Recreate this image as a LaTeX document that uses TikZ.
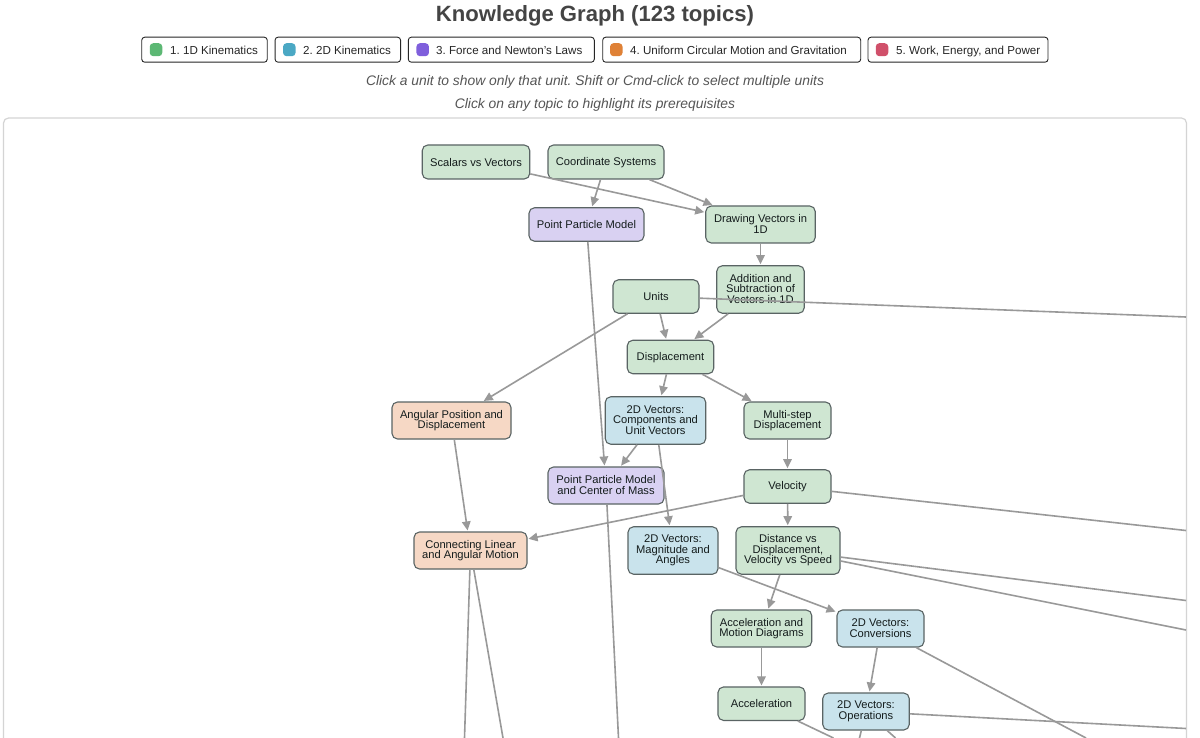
\documentclass[tikz,border=0pt]{standalone}
\usepackage{fontspec}
\setmainfont{Liberation Sans}
\usetikzlibrary{arrows.meta}
\definecolor{edgegray}{HTML}{999999}
\definecolor{boxline}{HTML}{5A6464}
\definecolor{panelline}{HTML}{D4D4D4}
\definecolor{titlegray}{HTML}{444444}
\definecolor{notegray}{HTML}{555555}
\definecolor{inkdark}{HTML}{141C1C}
\definecolor{fillA}{HTML}{CFE6D2}
\definecolor{fillB}{HTML}{C9E3EC}
\definecolor{fillC}{HTML}{D9D1F2}
\definecolor{fillD}{HTML}{F6D8C5}
\definecolor{swA}{HTML}{5CB874}
\definecolor{swB}{HTML}{4BA8C4}
\definecolor{swC}{HTML}{7F5FDC}
\definecolor{swD}{HTML}{DF8136}
\definecolor{swE}{HTML}{D0506A}
\newcommand\firstlinestrut{\rule{0pt}{9.3pt}}
\newcommand\lastlinestrut{\rule[-1.2pt]{0pt}{1.2pt}}
\tikzset{
  topic/.style={draw=boxline,line width=1.1pt,rounded corners=5.5pt,inner sep=0pt,align=center,
    text=inkdark,font=\frenchspacing\fontsize{11.15}{10.6}\selectfont,
    execute at begin node=\firstlinestrut,execute at end node=\lastlinestrut},
  unitA/.style={topic,fill=fillA},
  unitB/.style={topic,fill=fillB},
  unitC/.style={topic,fill=fillC},
  unitD/.style={topic,fill=fillD},
  link/.style={draw=edgegray,line width=1.6pt,-{Triangle[length=9pt,width=8.5pt]},shorten >=1pt},
  linkout/.style={draw=edgegray,line width=1.6pt},
  btn/.style={draw=black!85,line width=0.9pt,rounded corners=3pt,fill=white,inner sep=0pt,minimum height=25pt},
  swatch/.style={rounded corners=3.5pt,inner sep=0pt,minimum width=12.5pt,minimum height=13pt},
  btnlabel/.style={anchor=base west,inner sep=0pt,text=black!85,font=\frenchspacing\fontsize{11.6}{14}\selectfont},
  note/.style={anchor=base,inner sep=0pt,text=notegray,font=\frenchspacing\fontsize{13.85}{17}\selectfont\itshape},
}
\begin{document}
\begin{tikzpicture}[x=1pt,y=-1pt]
\useasboundingbox[fill=white] (0,0) rectangle (1200,738);
\node[anchor=base,inner sep=0pt,text=titlegray,font=\fontsize{22.1}{26}\selectfont\bfseries] (title) at (595,22) {Knowledge Graph (123 topics)};
% legend
\node[btn,minimum width=125.5pt] (b1) at (204.5,49.7) {};
\node[btn,minimum width=125.5pt] (b2) at (337.8,49.7) {};
\node[btn,minimum width=186pt] (b3) at (501.3,49.7) {};
\node[btn,minimum width=258pt] (b4) at (731.7,49.7) {};
\node[btn,minimum width=180pt] (b5) at (958,49.7) {};
\node[swatch,fill=swA] (s1) at (156,49.7) {};
\node[swatch,fill=swB] (s2) at (289.3,49.7) {};
\node[swatch,fill=swC] (s3) at (422.7,49.7) {};
\node[swatch,fill=swD] (s4) at (616.3,49.7) {};
\node[swatch,fill=swE] (s5) at (882,49.7) {};
\node[btnlabel] (t1) at (170,54.3) {1. 1D Kinematics};
\node[btnlabel] (t2) at (303,54.3) {2. 2D Kinematics};
\node[btnlabel] (t3) at (436,54.3) {3. Force and Newton's Laws};
\node[btnlabel] (t4) at (630,54.3) {4. Uniform Circular Motion and Gravitation};
\node[btnlabel] (t5) at (896,54.3) {5. Work, Energy, and Power};
\node[note] (n1) at (595,85.6) {Click a unit to show only that unit. Shift or Cmd-click to select multiple units};
\node[note] (n2) at (595,108.6) {Click on any topic to highlight its prerequisites};
% panel
\draw[panelline,line width=1.2pt,rounded corners=5pt] (3.5,738) -- (3.5,118) -- (1186.5,118) -- (1186.5,738);
% topics
\node[unitA,minimum width=107.5pt,minimum height=34pt] (sv) at (476,162) {Scalars vs Vectors};
\node[unitA,minimum width=116pt,minimum height=34pt] (cs) at (606,162) {Coordinate Systems};
\node[unitC,minimum width=115pt,minimum height=33.5pt] (ppm) at (586.5,224.5) {Point Particle Model};
\node[unitA,minimum width=109.5pt,minimum height=37pt] (dv) at (760.5,224.5) {Drawing Vectors in\\1D};
\node[unitA,minimum width=87.5pt,minimum height=47.5pt] (as) at (760.5,289.5) {Addition and\\Subtraction of\\Vectors in 1D};
\node[unitA,minimum width=86pt,minimum height=33.5pt] (un) at (656,296.5) {Units};
\node[unitA,minimum width=86.5pt,minimum height=33.5pt] (di) at (670.5,357) {Displacement};
\node[unitD,minimum width=119pt,minimum height=37pt] (ap) at (451.5,420.5) {Angular Position and\\Displacement};
\node[unitB,minimum width=100.5pt,minimum height=47.5pt] (cu) at (655.5,420.5) {2D Vectors:\\Components and\\Unit Vectors};
\node[unitA,minimum width=87pt,minimum height=37pt] (ms) at (787.5,420.5) {Multi-step\\Displacement};
\node[unitC,minimum width=116pt,minimum height=37pt] (pc) at (606,485.5) {Point Particle Model\\and Center of Mass};
\node[unitA,minimum width=87pt,minimum height=33.5pt] (ve) at (787.5,486.5) {Velocity};
\node[unitD,minimum width=113pt,minimum height=37pt] (cl) at (470.5,550.5) {Connecting Linear\\and Angular Motion};
\node[unitB,minimum width=90pt,minimum height=47.5pt] (ma) at (673,550.5) {2D Vectors:\\Magnitude and\\Angles};
\node[unitA,minimum width=104pt,minimum height=47.5pt] (dd) at (788,550.5) {Distance vs\\Displacement,\\Velocity vs Speed};
\node[unitA,minimum width=100.5pt,minimum height=37pt] (am) at (761.5,628.5) {Acceleration and\\Motion Diagrams};
\node[unitB,minimum width=87pt,minimum height=37pt] (co) at (880.5,628.5) {2D Vectors:\\Conversions};
\node[unitA,minimum width=87pt,minimum height=33.5pt] (ac) at (761.5,703.7) {Acceleration};
\node[unitB,minimum width=86.5pt,minimum height=37pt] (op) at (866,711.5) {2D Vectors:\\Operations};
% free ends of the connectors that leave the panel
\coordinate (x1) at (1186,317);
\coordinate (x2) at (1186,530.5);
\coordinate (x3) at (1186,600.5);
\coordinate (x4) at (1186,630);
\coordinate (x5) at (1186,728.5);
\coordinate (x6) at (1086,738);
\coordinate (x7) at (833.5,738);
\coordinate (x8) at (859.5,738);
\coordinate (x9) at (895.5,738);
\coordinate (x10) at (464.5,738);
\coordinate (x11) at (503,738);
\coordinate (x12) at (618.5,738);
% connectors
\draw[link] (sv) -- (dv);
\draw[link] (cs) -- (ppm);
\draw[link] (cs) -- (dv);
\draw[link] (ppm) -- (pc);
\draw[link] (dv) -- (as);
\draw[link] (as) -- (di);
\draw[link] (un) -- (di);
\draw[link] (un) -- (ap);
\draw[link] (di) -- (cu);
\draw[link] (di) -- (ms);
\draw[link] (cu) -- (pc);
\draw[link] (cu) -- (ma);
\draw[link] (ms) -- (ve);
\draw[link] (ve) -- (cl);
\draw[link] (ve) -- (dd);
\draw[link] (ap) -- (cl);
\draw[link] (dd) -- (am);
\draw[link] (ma) -- (co);
\draw[link] (am) -- (ac);
\draw[link] (co) -- (op);
\draw[linkout] (un) -- (x1);
\draw[linkout] (ve) -- (x2);
\draw[linkout] (dd) -- (x3);
\draw[linkout] (dd) -- (x4);
\draw[linkout] (op) -- (x5);
\draw[linkout] (co) -- (x6);
\draw[linkout] (ac) -- (x7);
\draw[linkout] (op) -- (x8);
\draw[linkout] (op) -- (x9);
\draw[linkout] (cl) -- (x10);
\draw[linkout] (cl) -- (x11);
\draw[linkout] (pc) -- (x12);
\end{tikzpicture}
\end{document}
